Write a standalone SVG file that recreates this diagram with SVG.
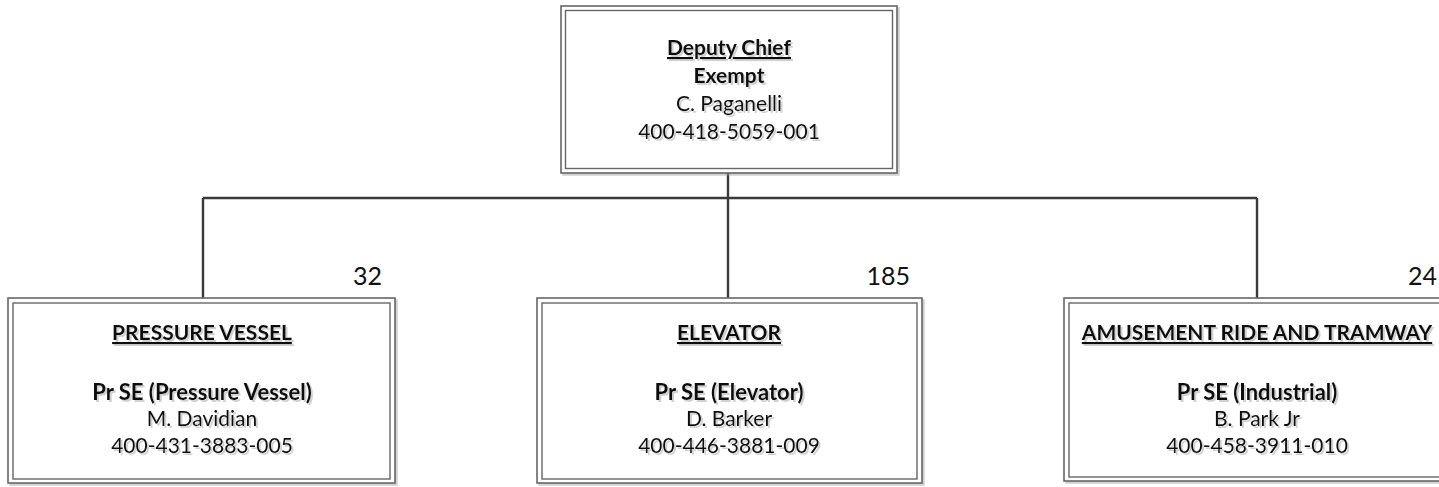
<svg xmlns="http://www.w3.org/2000/svg" width="1439" height="487" viewBox="0 0 1439 487">
<defs>
<filter id="sh" x="-5%" y="-5%" width="110%" height="115%">
<feDropShadow dx="2" dy="2" stdDeviation="0.6" flood-color="#999" flood-opacity="0.45"/>
</filter>
<style>
.o{fill:#fff;stroke:#666;stroke-width:1.6}
.i{fill:none;stroke:#666;stroke-width:1.4}
.t{font-family:Lato,"Open Sans",sans-serif;font-size:21px;fill:#111;text-anchor:middle}
.b{font-weight:bold}
.r{font-size:22px}
.u{text-decoration:underline}
.n{font-family:Lato,"Open Sans",sans-serif;font-size:25px;fill:#111;text-anchor:end}
.c{stroke:#3a3a3a;stroke-width:2.4;fill:none}
</style>
</defs>
<rect width="1439" height="487" fill="#fff"/>
<g id="connectors">
<path class="c" d="M728 173V198M203 198H1257M203 198V298M728 198V298M1257 198V298"/>
</g>
<g id="deputy-chief">
<rect class="o" x="561" y="6" width="336" height="167" filter="url(#sh)"/>
<rect class="i" x="565.5" y="10.5" width="327" height="158"/>
<g filter="url(#sh)">
<text class="t b u" x="729" y="55">Deputy Chief</text>
<text class="t b" x="729" y="83">Exempt</text>
<text class="t" x="729" y="111">C. Paganelli</text>
<text class="t" x="729" y="139">400-418-5059-001</text>
</g>
</g>
<g id="pressure-vessel">
<rect class="o" x="8" y="298" width="387" height="185" filter="url(#sh)"/>
<rect class="i" x="13" y="303" width="377" height="176"/>
<g filter="url(#sh)">
<text class="t b u" x="202" y="340">PRESSURE VESSEL</text>
<text class="t b r" x="202" y="400">Pr SE (Pressure Vessel)</text>
<text class="t" x="202" y="426">M. Davidian</text>
<text class="t" x="202" y="453">400-431-3883-005</text>
</g>
<text class="n" x="382" y="285">32</text>
</g>
<g id="elevator">
<rect class="o" x="537" y="298" width="385" height="185" filter="url(#sh)"/>
<rect class="i" x="542" y="303" width="375" height="176"/>
<g filter="url(#sh)">
<text class="t b u" x="729" y="340">ELEVATOR</text>
<text class="t b r" x="729" y="400">Pr SE (Elevator)</text>
<text class="t" x="729" y="426">D. Barker</text>
<text class="t" x="729" y="453">400-446-3881-009</text>
</g>
<text class="n" x="910" y="285">185</text>
</g>
<g id="amusement-ride">
<rect class="o" x="1064" y="298" width="386" height="183" filter="url(#sh)"/>
<rect class="i" x="1069" y="303" width="376" height="174"/>
<g filter="url(#sh)">
<text class="t b u" x="1257" y="340">AMUSEMENT RIDE AND TRAMWAY</text>
<text class="t b r" x="1257" y="400">Pr SE (Industrial)</text>
<text class="t" x="1257" y="426">B. Park Jr</text>
<text class="t" x="1257" y="453">400-458-3911-010</text>
</g>
<text class="n" x="1437" y="285">24</text>
</g>
</svg>
